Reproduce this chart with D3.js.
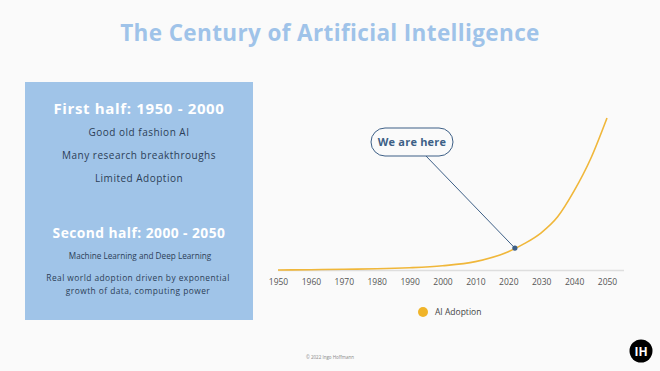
<!DOCTYPE html>
<html>
<head>
<meta charset="utf-8">
<script src="https://cdn.jsdelivr.net/npm/d3@7"></script>
<style>
  body { margin: 0; background: #fafafa; }
  svg { display: block; font-family: "Open Sans", "Noto Sans", sans-serif; }
</style>
</head>
<body>
<svg id="chart"></svg>
<script>
// AI adoption curve (relative units)
const years = [1950, 1960, 1970, 1980, 1990, 2000, 2010, 2020, 2025, 2030, 2035, 2040, 2045, 2050]
const adoption = [0, 0.2, 0.5, 0.8, 1.5, 2.8, 5.5, 12, 17.5, 24.5, 35, 52, 73, 100]
const tickYears = [1950, 1960, 1970, 1980, 1990, 2000, 2010, 2020, 2030, 2040, 2050]
const hereYear = 2022
const hereValue = 14.4

const firstHalf = ["Good old fashion AI", "Many research breakthroughs", "Limited Adoption"]
const secondHalf = ["Machine Learning and Deep Learning"]
const secondHalfNote = ["Real world adoption driven by exponential", "growth of data, computing power"]

const width = 660, height = 371
const svg = d3.select("#chart")
    .attr("width", width)
    .attr("height", height)
    .attr("viewBox", [0, 0, width, height])

svg.append("rect").attr("width", width).attr("height", height).attr("fill", "#fafafa")

// title
svg.append("text")
    .attr("x", 330).attr("y", 41)
    .attr("text-anchor", "middle")
    .attr("font-size", 22.5).attr("font-weight", 700)
    .attr("letter-spacing", 0.37)
    .attr("fill", "#9fc3e9")
    .text("The Century of Artificial Intelligence")

// left panel
const panel = svg.append("g")
panel.append("rect")
    .attr("x", 25).attr("y", 82).attr("width", 228).attr("height", 238)
    .attr("fill", "#a0c4e8")

const cx = 139
panel.append("text")
    .attr("x", cx).attr("y", 114)
    .attr("text-anchor", "middle").attr("font-size", 15).attr("font-weight", 700)
    .attr("letter-spacing", 0.65)
    .attr("fill", "#fff").text("First half: 1950 - 2000")
panel.selectAll(".fh").data(firstHalf).join("text")
    .attr("x", cx).attr("y", (d, i) => 136 + i * 23)
    .attr("text-anchor", "middle").attr("font-size", 10)
    .attr("letter-spacing", 0.5)
    .attr("fill", "#2c3e57").text(d => d)

panel.append("text")
    .attr("x", cx).attr("y", 238)
    .attr("text-anchor", "middle").attr("font-size", 13.8).attr("font-weight", 700)
    .attr("letter-spacing", 0.45)
    .attr("fill", "#fff").text("Second half: 2000 - 2050")
panel.selectAll(".sh").data(secondHalf).join("text")
    .attr("x", cx + 1).attr("y", 259)
    .attr("text-anchor", "middle").attr("font-size", 8.2)
    .attr("fill", "#2c3e57").text(d => d)
panel.selectAll(".sn").data(secondHalfNote).join("text")
    .attr("x", cx - 1).attr("y", (d, i) => 281 + i * 12.5)
    .attr("text-anchor", "middle").attr("font-size", 8.4)
    .attr("letter-spacing", 0.45)
    .attr("fill", "#2c3e57").text(d => d)

// chart
const x = d3.scaleLinear([1950, 2050], [278, 607])
const y = d3.scaleLinear([0, 100], [270, 118])

const xAxis = d3.axisBottom(x).tickValues(tickYears).tickFormat(d3.format("d")).tickSize(0).tickPadding(9)
svg.append("g")
    .attr("transform", `translate(0,${y(0)})`)
    .call(xAxis)
    .call(g => g.select(".domain").remove())
    .call(g => g.selectAll("text").attr("font-size", 8.5).attr("fill", "#555").attr("font-family", "Open Sans, sans-serif"))

svg.append("line")
    .attr("x1", 278).attr("x2", 624)
    .attr("y1", y(0) + 0.5).attr("y2", y(0) + 0.5)
    .attr("stroke", "#dedede").attr("stroke-width", 1.5)

const line = d3.line()
    .x((d, i) => x(years[i]))
    .y(d => y(d))
    .curve(d3.curveMonotoneX)

svg.append("path")
    .datum(adoption)
    .attr("fill", "none")
    .attr("stroke", "#f0b73a")
    .attr("stroke-width", 1.6)
    .attr("d", line)

// annotation
const bx = 371, by = 128, bw = 82, bh = 28
svg.append("line")
    .attr("x1", 426).attr("y1", by + bh)
    .attr("x2", x(hereYear)).attr("y2", y(hereValue))
    .attr("stroke", "#3d5f86").attr("stroke-width", 1)
svg.append("circle")
    .attr("cx", x(hereYear)).attr("cy", y(hereValue)).attr("r", 2.6)
    .attr("fill", "#3d5f86")
svg.append("rect")
    .attr("x", bx).attr("y", by).attr("width", bw).attr("height", bh)
    .attr("rx", 14).attr("fill", "#fafafa")
    .attr("stroke", "#3d5f86").attr("stroke-width", 1)
svg.append("text")
    .attr("x", bx + bw / 2).attr("y", by + bh / 2 + 4)
    .attr("text-anchor", "middle").attr("font-size", 11).attr("font-weight", 700)
    .attr("letter-spacing", 0.2)
    .attr("fill", "#3d5f86").text("We are here")

// legend
svg.append("circle").attr("cx", 423).attr("cy", 312).attr("r", 5).attr("fill", "#f0b429")
svg.append("text").attr("x", 435).attr("y", 315)
    .attr("font-size", 8.5).attr("fill", "#444").text("AI Adoption")

// footer
svg.append("text").attr("x", 330).attr("y", 359)
    .attr("text-anchor", "middle").attr("font-size", 4.5).attr("fill", "#888")
    .text("© 2022 Ingo Hoffmann")
svg.append("circle").attr("cx", 641).attr("cy", 351).attr("r", 11.5).attr("fill", "#000")
svg.append("text").attr("x", 641).attr("y", 355.5)
    .attr("text-anchor", "middle").attr("font-size", 12).attr("font-weight", 700)
    .attr("fill", "#fff").text("IH")
</script>
</body>
</html>
